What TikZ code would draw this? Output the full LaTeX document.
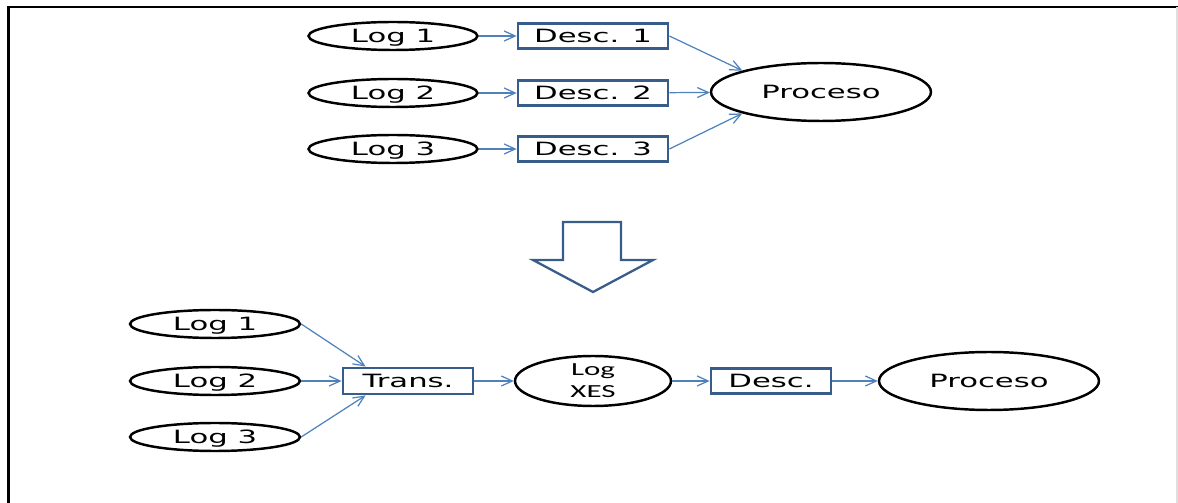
\documentclass[tikz,border=0pt]{standalone}
\usepackage{fontspec}
\usepackage{graphicx}
\setmainfont{DejaVu Sans}
\newfontfamily\xesfont{Carlito}
\usetikzlibrary{shapes.geometric,arrows.meta}
\definecolor{flowblue}{RGB}{79,129,189}
\definecolor{boxblue}{RGB}{56,93,138}
\newcommand{\wide}[1]{\scalebox{1.68}[1]{#1}}
\tikzset{
  logell/.style={draw=black, line width=1.4pt, ellipse, inner sep=0pt, minimum width=3.38cm, minimum height=0.56cm, text height=7.6pt, text depth=0pt, font=\fontsize{10.4}{12}\selectfont},
  procell/.style={logell, minimum width=4.4cm, minimum height=1.16cm},
  descbox/.style={draw=boxblue, line width=1.6pt, rectangle, inner sep=0pt, minimum width=3cm, minimum height=0.5cm, text height=7.6pt, text depth=0pt, font=\fontsize{10.4}{12}\selectfont},
  flow/.style={draw=flowblue, line width=0.7pt, -{Straight Barb[length=0.22cm,width=0.2cm]}}
}

\begin{document}
\begin{tikzpicture}[x=0.02cm, y=-0.02cm]
\useasboundingbox (0,0) rectangle (1178,503);
% frame
\draw[black, line width=1.2pt](8,7)--(1178,7);
\draw[black, line width=2pt](8.5,6)--(8.5,503);
\draw[gray!25, line width=0.6pt](1177,7)--(1177,503);

% top
\foreach \i/\y in {1/36,2/93,3/149}{
	\node[logell] (tlog\i) at (393,\y) {\wide{Log \i}};
	\node[descbox] (tdesc\i) at (593,\y) {\wide{Desc. \i}};
	\draw[flow] (tlog\i) -- (tdesc\i);
}
\node[procell] (tproc) at (821,92) {\wide{Proceso}};
\draw[flow] (tdesc1.east) -- (tproc.north west);
\draw[flow] (tdesc2) -- (tproc);
\draw[flow] (tdesc3.east) -- (tproc.south west);

% big arrow
\draw[boxblue, line width=1.3pt, fill=white, line join=miter](563,222)--(621,222)--(621,260)--(653,260)--(593,292)--(533,260)--(563,260)--cycle;

% bottom
\foreach \i/\y in {1/324,2/381,3/437}{
	\node[logell, minimum width=3.4cm] (blog\i) at (215,\y) {\wide{Log \i}};
}
\node[descbox, minimum width=2.6cm, minimum height=0.52cm] (trans) at (408,381) {\wide{Trans.}};
\node[logell, minimum width=3.12cm, minimum height=1cm, text height=, text depth=, align=center, font=\xesfont\fontsize{10.5}{12.5}\selectfont] (xes) at (593,381) {\wide{Log}\\\wide{XES}};
\node[descbox, minimum width=2.4cm] (bdesc) at (771,381) {\wide{Desc.}};
\node[procell] (bproc) at (989,381) {\wide{Proceso}};
\draw[flow] (blog1.east) -- ([xshift=0.48cm]trans.north west);
\draw[flow] (blog2) -- (trans);
\draw[flow] (blog3.east) -- ([xshift=0.48cm]trans.south west);
\draw[flow] (trans) -- (xes);
\draw[flow] (xes) -- (bdesc);
\draw[flow] (bdesc) -- (bproc);
\end{tikzpicture}
\end{document}
